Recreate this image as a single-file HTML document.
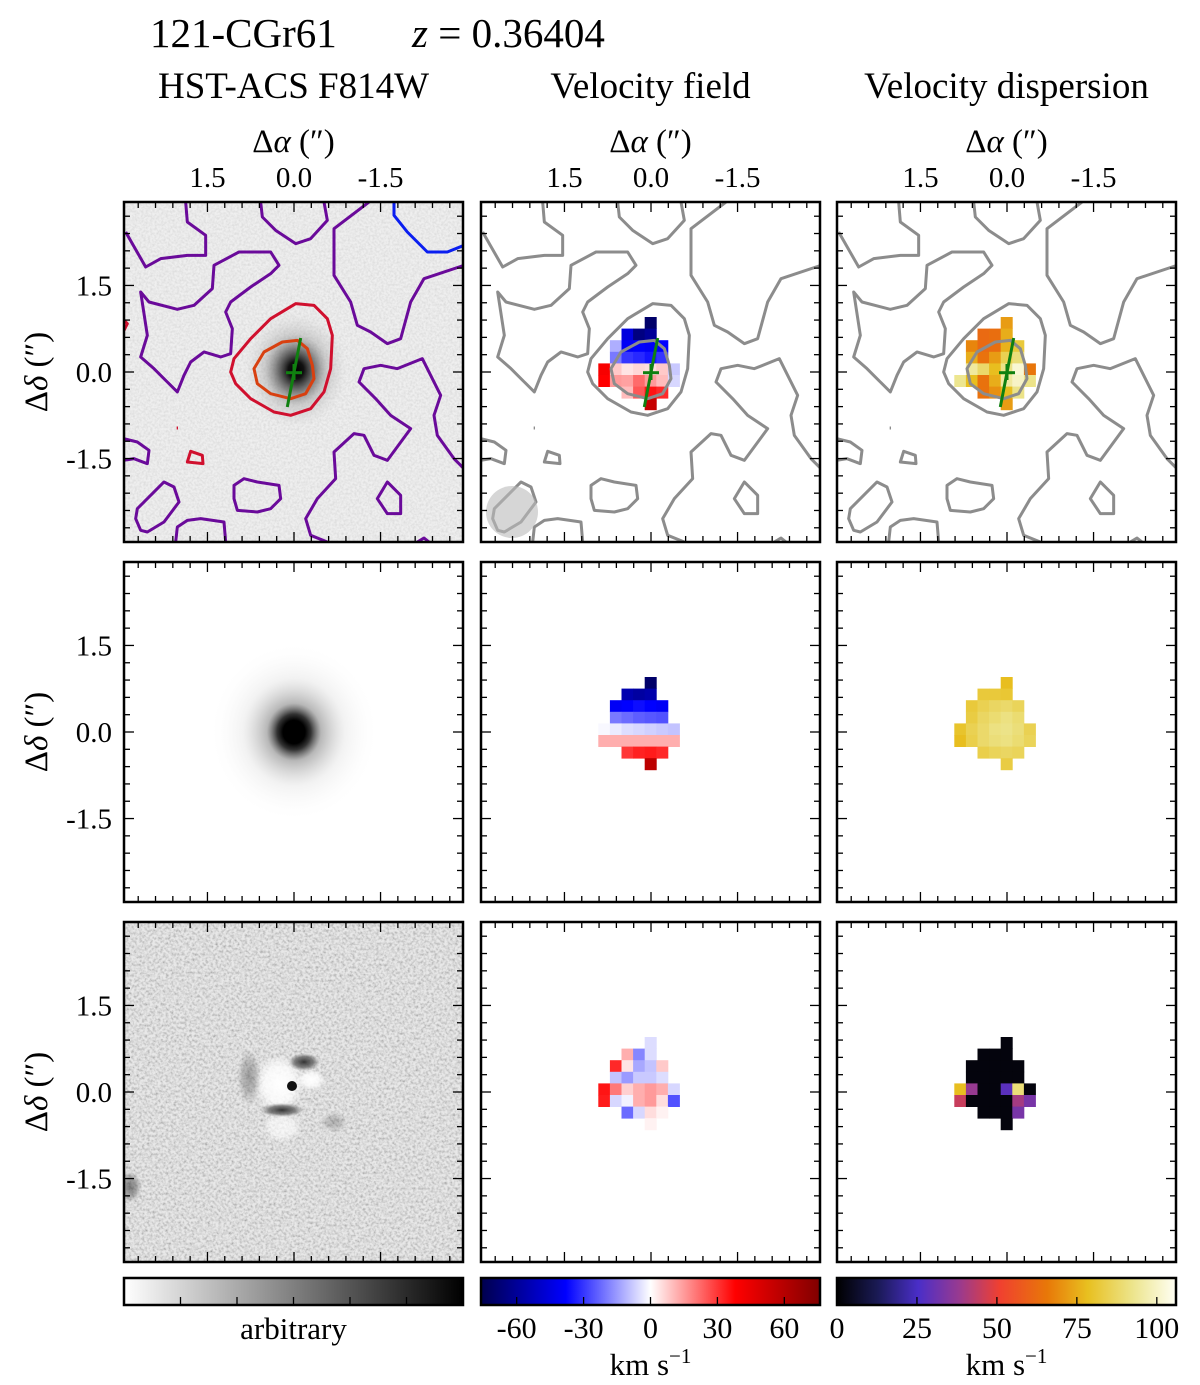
<!DOCTYPE html>
<html><head><meta charset="utf-8"><style>
html,body{margin:0;padding:0;background:#fff}
svg{display:block}
text{font-family:"Liberation Serif",serif;fill:#000}
</style></head><body>
<svg id="fig" width="1200" height="1385" viewBox="0 0 1200 1385" xmlns="http://www.w3.org/2000/svg">
<defs>
<filter id="noise" x="0" y="0" width="100%" height="100%">
<feTurbulence type="fractalNoise" baseFrequency="0.45" numOctaves="2" seed="3"/>
<feColorMatrix type="matrix" values="0 0 0 0 0.5  0 0 0 0 0.5  0 0 0 0 0.5  0 0 0 1.4 -0.45"/>
</filter>
<filter id="noise2" x="0" y="0" width="100%" height="100%">
<feTurbulence type="fractalNoise" baseFrequency="0.38" numOctaves="2" seed="7"/>
<feColorMatrix type="matrix" values="1.6 0 0 0 -0.05  1.6 0 0 0 -0.05  1.6 0 0 0 -0.05  0 0 0 0 0.45"/>
</filter>
<radialGradient id="gal1" cx="0.5" cy="0.5" r="0.5">
<stop offset="0" stop-color="#000"/><stop offset="0.15" stop-color="#111"/><stop offset="0.35" stop-color="#555" stop-opacity="0.8"/><stop offset="0.6" stop-color="#999" stop-opacity="0.4"/><stop offset="1" stop-color="#ccc" stop-opacity="0"/>
</radialGradient>
<radialGradient id="gal2" cx="0.5" cy="0.5" r="0.5">
<stop offset="0" stop-color="#000"/><stop offset="0.13" stop-color="#000"/><stop offset="0.2" stop-color="#333"/><stop offset="0.32" stop-color="#888" stop-opacity="0.6"/><stop offset="0.6" stop-color="#ccc" stop-opacity="0.25"/><stop offset="1" stop-color="#fff" stop-opacity="0"/>
</radialGradient>
<radialGradient id="whiteblob" cx="0.5" cy="0.5" r="0.5">
<stop offset="0" stop-color="#fff"/><stop offset="0.6" stop-color="#fff" stop-opacity="0.8"/><stop offset="1" stop-color="#fff" stop-opacity="0"/>
</radialGradient>
<radialGradient id="darkblob" cx="0.5" cy="0.5" r="0.5">
<stop offset="0" stop-color="#333"/><stop offset="0.6" stop-color="#555" stop-opacity="0.7"/><stop offset="1" stop-color="#888" stop-opacity="0"/>
</radialGradient>
<linearGradient id="cbGray" x1="0" x2="1"><stop offset="0" stop-color="#fff"/><stop offset="1" stop-color="#000"/></linearGradient>
<linearGradient id="cbVel" x1="0" x2="1"><stop offset="0" stop-color="#00004d"/><stop offset="0.25" stop-color="#0000ff"/><stop offset="0.5" stop-color="#ffffff"/><stop offset="0.75" stop-color="#ff0000"/><stop offset="1" stop-color="#800000"/></linearGradient>
<linearGradient id="cbDisp" x1="0" x2="1">
<stop offset="0" stop-color="#000000"/><stop offset="0.12" stop-color="#1a1a55"/><stop offset="0.24" stop-color="#4a2ec8"/><stop offset="0.36" stop-color="#983a90"/><stop offset="0.48" stop-color="#f04030"/><stop offset="0.62" stop-color="#e87808"/><stop offset="0.74" stop-color="#e8c020"/><stop offset="0.87" stop-color="#ece48a"/><stop offset="1" stop-color="#fffff4"/></linearGradient>
<clipPath id="pclip"><rect x="0" y="0" width="339" height="340"/></clipPath>
</defs>
</svg>
<script>
// ---------- data ----------
const velObs = [
 [null,null,null,null,-70,null,null],
 [null,null,-45,-65,-60,null,null],
 [null,-12,-40,-38,-40,-38,null],
 [null,-20,-30,-32,-35,-30,null],
 [40,8,4,6,5,8,-8],
 [38,15,14,22,15,10,-6],
 [null,null,10,25,35,32,null],
 [null,null,null,null,55,null,null]];
const velMod = [
 [null,null,null,null,-70,null,null],
 [null,null,-55,-58,-56,null,null],
 [null,-40,-38,-36,-38,-40,null],
 [null,-20,-22,-24,-25,-26,null],
 [-1,-3,-5,-6,-7,-8,-9],
 [12,12,12,12,12,12,12],
 [null,null,30,33,34,32,null],
 [null,null,null,null,58,null,null]];
const velRes = [
 [null,null,null,null,-5,null,null],
 [null,null,12,-18,-5,null,null],
 [null,32,4,-13,-9,8,null],
 [null,-9,-15,-8,-8,-5,null],
 [35,20,7,12,15,12,-6],
 [34,-6,-2,12,15,5,-26],
 [null,null,-22,-6,5,2,null],
 [null,null,null,null,2,null,null]];
const dispObs = [
 [null,null,null,null,72,null,null],
 [null,null,62,63,75,null,null],
 [null,68,62,63,76,82,null],
 [null,75,64,72,85,90,null],
 [null,95,88,78,92,102,65],
 [93,78,64,75,95,100,92],
 [null,null,64,70,78,92,null],
 [null,null,null,null,72,null,null]];
const dispMod = [
 [null,null,null,null,78,null,null],
 [null,null,82,82,81,null,null],
 [null,82,85,87,88,86,null],
 [null,83,87,89,91,89,null],
 [80,85,88,91,92,90,85],
 [78,84,88,90,91,89,86],
 [null,null,84,86,87,86,null],
 [null,null,null,null,83,null,null]];
const dispRes = [
 [null,null,null,null,2,null,null],
 [null,null,2,2,2,null,null],
 [null,2,2,2,2,2,null],
 [null,2,2,2,2,2,null],
 [78,38,2,2,28,90,2],
 [45,2,2,2,2,40,33],
 [null,null,2,2,2,33,null],
 [null,null,null,null,2,null,null]];
const axisTicks = [1.5, 0.0, -1.5];
const axisTickLabels = ["1.5","0.0","-1.5"];
const velCbTicks = [-60,-30,0,30,60];
const dispCbTicks = [0,25,50,75,100];

// ---------- geometry ----------
const NS='http://www.w3.org/2000/svg';
const svg=document.getElementById('fig');
const colX=[124,481,837], rowY=[202,562,922], PW=339, PH=340;
const SCALE=57.7;
const CX=170, CY=170;
function ax(a){return CX - a*SCALE;}
function ay(d){return CY - d*SCALE;}
const CELL=11.6, GX0=117.3, GY0=115;
const VMIN=-76, VMAX=76, DMIN=0, DMAX=106;
function vx(v){return (v-VMIN)/(VMAX-VMIN);}
function dx(v){return (v-DMIN)/(DMAX-DMIN);}

function el(tag,attrs,parent){const e=document.createElementNS(NS,tag);for(const k in attrs)e.setAttribute(k,attrs[k]);(parent||svg).appendChild(e);return e;}
function lerp(a,b,t){return a+(b-a)*t;}
function cmap(stops,t){t=Math.max(0,Math.min(1,t));for(let i=1;i<stops.length;i++){if(t<=stops[i][0]){const s=stops[i-1],e=stops[i];const u=(t-s[0])/(e[0]-s[0]);return 'rgb('+[1,2,3].map(j=>Math.round(lerp(s[j],e[j],u))).join(',')+')';}}const l=stops[stops.length-1];return 'rgb('+l[1]+','+l[2]+','+l[3]+')';}
const velStops=[[0,0,0,77],[0.25,0,0,255],[0.5,255,255,255],[0.75,255,0,0],[1,128,0,0]];
const dispStops=[[0,0,0,0],[0.12,26,26,85],[0.24,74,46,200],[0.36,152,58,144],[0.48,240,64,48],[0.62,232,120,8],[0.74,232,192,32],[0.87,236,228,138],[1,255,255,244]];

const purplePaths=[
"M5,90 L65,195 L110,170 L190,160 L245,160 L245,100 L190,60 L185,0",
"M410,0 L415,45 L455,85 L515,125 L560,110 L610,55 L600,0",
"M50,270 L75,300 L160,322 L210,310 L265,260 L270,190 L345,150 L440,150 L465,190 L440,215 L380,255 L320,300 L305,330 L325,380 L320,455 L290,465 L240,450 L200,480 L180,520 L160,570 L130,540 L90,500 L50,465 L70,400 Z",
"M735,0 L630,80 L630,220 L680,300 L700,370 L740,390 L790,425 L830,410 L860,300 L900,230 L1020,190",
"M1020,800 L990,770 L940,700 L930,640 L950,580 L895,470 L820,500 L770,490 L720,500 L705,540 L755,590 L800,640 L860,680 L790,775 L750,760 L720,700 L690,695 L630,750 L635,830 L580,890 L545,950 L560,1000 L610,1020",
"M0,710 L40,720 L75,745 L70,785 L30,770 L0,775",
"M35,950 L50,985 L70,990 L120,960 L165,900 L150,855 L120,840 L80,880 L40,920 Z",
"M330,850 L360,830 L400,840 L465,850 L470,890 L440,920 L400,930 L340,925 L330,890 Z",
"M155,1020 L160,975 L190,955 L230,950 L300,960 L305,1020",
"M760,890 L790,840 L830,880 L830,935 L790,935 Z",
"M880,1020 L900,1008 L915,1020"];
const bluePath="M810,0 L810,40 L850,90 L910,150 L970,150 L1020,130";
const redPaths=["M190,780 L200,748 L235,760 L237,785 Z","M0,355 L10,365 L0,385","M158,678 L162,678",
"M320,510 L330,470 L380,410 L440,350 L515,305 L570,310 L610,350 L625,400 L620,500 L600,570 L560,620 L500,640 L450,630 L380,590 L335,545 Z"];
const orangePath="M390,500 L420,450 L475,420 L520,415 L550,440 L565,490 L570,530 L545,575 L500,590 L440,575 L400,545 Z";

function panel(ci,ri,name){
  const g=el('g',{transform:'translate('+colX[ci]+','+rowY[ri]+')'});
  
  
  const inner=el('g',{'clip-path':'url(#pclip)'},g);
  return {g,inner};
}
function frame(g){
  const f=el('rect',{x:0,y:0,width:PW,height:PH,fill:'none',stroke:'#000','stroke-width':2.5},g);
  
  
  for(let a=-3.0;a<=3.01;a+=0.3){
    const p=ax(a), q=ay(a);
    const major=Math.abs(a)<0.01||Math.abs(Math.abs(a)-1.5)<0.01;
    const L=major?10:6;
    if(p>1&&p<PW-1){el('line',{x1:p,y1:0,x2:p,y2:L,stroke:'#000','stroke-width':1.3},g);el('line',{x1:p,y1:PH,x2:p,y2:PH-L,stroke:'#000','stroke-width':1.3},g);}
    if(q>1&&q<PH-1){el('line',{x1:0,y1:q,x2:L,y2:q,stroke:'#000','stroke-width':1.3},g);el('line',{x1:PW,y1:q,x2:PW-L,y2:q,stroke:'#000','stroke-width':1.3},g);}
  }
}
function contours(parent,gray){
  const cg=el('g',{transform:'scale(0.33333)',fill:'none','stroke-width':9,'stroke-linejoin':'round'},parent);
  
  
  purplePaths.forEach(d=>el('path',{d,stroke:gray?'#8c8c8c':'#6a0a9a'},cg));
  if(!gray) el('path',{d:bluePath,stroke:'#0a1ef0'},cg);
  redPaths.forEach((d,i)=>{ if(gray && i===1) return; el('path',{d,stroke:gray?'#8c8c8c':'#d0102e'},cg);});
  el('path',{d:orangePath,stroke:gray?'#8c8c8c':'#d84010'},cg);
}
function majorAxis(parent){
  const mg=el('g',{},parent);
  
  
  el('line',{x1:176.7,y1:136,x2:163.3,y2:205,stroke:'#108010','stroke-width':3},mg);
  el('line',{x1:162,y1:170.7,x2:178,y2:170.7,stroke:'#108010','stroke-width':3},mg);
  el('line',{x1:170,y1:162,x2:170,y2:178,stroke:'#108010','stroke-width':3},mg);
}
function pixels(parent,data,kind){
  const pg=el('g',{},parent);
  
  
  data.forEach((row,r)=>row.forEach((v,c)=>{
    if(v===null) return;
    const col=kind==='vel'?cmap(velStops,vx(v)):cmap(dispStops,dx(v));
    const rc=el('rect',{x:GX0+c*CELL,y:GY0+r*CELL,width:CELL+0.4,height:CELL+0.4,fill:col},pg);
    
    
  }));
}

// Row 1
let p=panel(0,0,'hst-image-panel');
el('rect',{x:0,y:0,width:PW,height:PH,fill:'#efefef'},p.inner);
el('rect',{x:0,y:0,width:PW,height:PH,fill:'#fff',filter:'url(#noise)',opacity:0.5},p.inner);
el('ellipse',{cx:172,cy:168,rx:52,ry:58,fill:'url(#gal1)'},p.inner);
contours(p.inner,false); majorAxis(p.inner); frame(p.g);

p=panel(1,0,'velocity-field-panel');
el('rect',{x:0,y:0,width:PW,height:PH,fill:'#fff'},p.inner);
pixels(p.inner,velObs,'vel');
contours(p.inner,true); majorAxis(p.inner);
let beam=el('circle',{cx:31,cy:310,r:26,fill:'#bbb',opacity:0.6},p.inner);


frame(p.g);

p=panel(2,0,'velocity-dispersion-panel');
el('rect',{x:0,y:0,width:PW,height:PH,fill:'#fff'},p.inner);
pixels(p.inner,dispObs,'disp');
contours(p.inner,true); majorAxis(p.inner); frame(p.g);

// Row 2
p=panel(0,1,'hst-model-panel');
el('rect',{x:0,y:0,width:PW,height:PH,fill:'#fff'},p.inner);
el('ellipse',{cx:170,cy:170,rx:85,ry:90,fill:'url(#gal2)'},p.inner);
frame(p.g);
p=panel(1,1,'velocity-model-panel');
pixels(p.inner,velMod,'vel'); frame(p.g);
p=panel(2,1,'dispersion-model-panel');
pixels(p.inner,dispMod,'disp'); frame(p.g);

// Row 3
p=panel(0,2,'hst-residual-panel');
el('rect',{x:0,y:0,width:PW,height:PH,fill:'#d6d6d6'},p.inner);
el('rect',{x:0,y:0,width:PW,height:PH,filter:'url(#noise2)'},p.inner);
el('ellipse',{cx:155,cy:162,rx:25,ry:30,fill:'url(#whiteblob)'},p.inner);
el('ellipse',{cx:158,cy:205,rx:20,ry:16,fill:'url(#whiteblob)',opacity:0.7},p.inner);
el('ellipse',{cx:187,cy:158,rx:14,ry:10,fill:'url(#whiteblob)'},p.inner);
el('ellipse',{cx:158,cy:188,rx:22,ry:7,fill:'url(#darkblob)'},p.inner);
el('ellipse',{cx:180,cy:140,rx:16,ry:9,fill:'url(#darkblob)'},p.inner);
el('ellipse',{cx:125,cy:155,rx:12,ry:28,fill:'url(#darkblob)',opacity:0.4},p.inner);
el('ellipse',{cx:210,cy:200,rx:14,ry:10,fill:'url(#darkblob)',opacity:0.3},p.inner);
el('circle',{cx:168,cy:164,r:5,fill:'#111'},p.inner);
el('ellipse',{cx:6,cy:265,rx:12,ry:16,fill:'url(#darkblob)',opacity:0.6},p.inner);
frame(p.g);
p=panel(1,2,'velocity-residual-panel');
pixels(p.inner,velRes,'vel'); frame(p.g);
p=panel(2,2,'dispersion-residual-panel');
pixels(p.inner,dispRes,'disp'); frame(p.g);

// ---------- text ----------
function txt(x,y,s,size,anchor,name,extra){const t=el('text',Object.assign({x,y,'font-size':size,'text-anchor':anchor||'start'},extra||{}));t.innerHTML=s;return t;}
txt(150,47,'121-CGr61',41,'start','galaxy-id');
txt(412,47,'<tspan font-style="italic">z</tspan> = 0.36404',41,'start','redshift-label');
const titles=['HST-ACS F814W','Velocity field','Velocity dispersion'];
titles.forEach((s,i)=>txt(colX[i]+PW/2,98,s,37,'middle','column-title'));
for(let i=0;i<3;i++){
  txt(colX[i]+PW/2,152,'Δ<tspan font-style="italic">α</tspan> (″)',33,'middle','x-axis-title');
  axisTicks.forEach((a,k)=>txt(colX[i]+ax(a),187,axisTickLabels[k],29,'middle','x-tick-label'));
}
for(let r=0;r<3;r++){
  axisTicks.forEach((d,k)=>txt(112,rowY[r]+ay(d)+10,axisTickLabels[k],29,'end','y-tick-label'));
  const cy=rowY[r]+PH/2;
  txt(0,0,'Δ<tspan font-style="italic">δ</tspan> (″)',33,'middle','y-axis-title',{transform:'translate(47,'+cy+') rotate(-90)'});
}

// ---------- colorbars ----------
const CBY=1278, CBH=27;
function cbar(i,fill,name){
  const g=el('g',{transform:'translate('+colX[i]+','+CBY+')'});
  
  
  el('rect',{x:0,y:0,width:PW,height:CBH,fill},g);
  el('rect',{x:0,y:0,width:PW,height:CBH,fill:'none',stroke:'#000','stroke-width':2.5},g);
  return g;
}
let g=cbar(0,'url(#cbGray)','gray-colorbar');
for(let k=1;k<=5;k++){el('line',{x1:PW*k/6,y1:CBH,x2:PW*k/6,y2:CBH-8,stroke:'#000','stroke-width':1.3},g);}
txt(colX[0]+PW/2,1339,'arbitrary',31,'middle','colorbar-label');

g=cbar(1,'url(#cbVel)','velocity-colorbar');
velCbTicks.forEach(v=>{const x=vx(v)*PW;el('line',{x1:x,y1:CBH,x2:x,y2:CBH-8,stroke:'#000','stroke-width':1.3},g);txt(colX[1]+x,1338,String(v),30,'middle','velocity-tick-label');});
txt(colX[1]+PW/2,1375,'km s<tspan dy="-12" font-size="21">−1</tspan>',31,'middle','velocity-unit-label');

g=cbar(2,'url(#cbDisp)','dispersion-colorbar');
dispCbTicks.forEach(v=>{const x=dx(v)*PW;el('line',{x1:x,y1:CBH,x2:x,y2:CBH-8,stroke:'#000','stroke-width':1.3},g);txt(colX[2]+x,1338,String(v),30,'middle','dispersion-tick-label');});
txt(colX[2]+PW/2,1375,'km s<tspan dy="-12" font-size="21">−1</tspan>',31,'middle','dispersion-unit-label');
</script>
</body></html>
